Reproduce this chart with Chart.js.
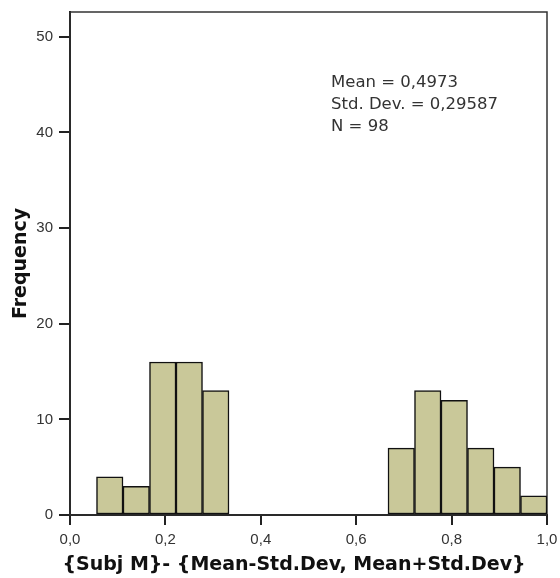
<!DOCTYPE html>
<html>
<head>
<meta charset="utf-8">
<script src="https://cdn.jsdelivr.net/npm/chart.js@4"></script>
<style>
    body { margin: 0; background: #fff; }
    #wrap { width: 560px; height: 578px; }
</style>
</head>
<body>
<div id="wrap"><canvas id="histograma" width="560" height="578"></canvas></div>
<script>
// Dados do histograma - bins de largura 1/18 começando em 1/18
const larguraBin = 1 / 18
const binInicio = 1 / 18
const frequencias = [4, 3, 16, 16, 13, null, null, null, null, null, null, 7, 13, 12, 7, 5, 2]
const ticksX = [0, 0.2, 0.4, 0.6, 0.8, 1.0]
const ticksY = [0, 10, 20, 30, 40, 50]
const estatisticas = ["Mean = 0,4973", "Std. Dev. = 0,29587", "N = 98"]
const tituloX = "{Subj M}- {Mean-Std.Dev, Mean+Std.Dev}"

const pontos = frequencias.map((f, i) => ({ x: binInicio + larguraBin * (i + 0.5), y: f }))

const virgula = v => Number(v).toFixed(1).replace('.', ',')

// Moldura, texto das estatísticas e título do eixo X
const pluginMoldura = {
    id: 'moldura',
    beforeDatasetsDraw(chart) {
        const { ctx, chartArea } = chart
        ctx.save()
        ctx.strokeStyle = '#333'
        ctx.lineWidth = 1.5
        ctx.strokeRect(chartArea.left, chartArea.top, chartArea.right - chartArea.left, chartArea.bottom - chartArea.top)
        ctx.restore()
    },
    afterDraw(chart) {
        const { ctx } = chart
        ctx.save()
        ctx.fillStyle = '#333'
        ctx.font = '16.5px "DejaVu Sans", Verdana, sans-serif'
        ctx.textBaseline = 'middle'
        estatisticas.forEach((linha, i) => {
            ctx.fillText(linha, 331, 83 + i * 22)
        })

        ctx.fillStyle = '#111'
        ctx.font = 'bold 19px "DejaVu Sans", Verdana, sans-serif'
        ctx.textAlign = 'center'
        ctx.fillText(tituloX, 294, 565)
        ctx.restore()
    }
}

let myChartHistograma = new Chart(
    document.getElementById("histograma"),
    {
        type: "bar",
        data: {
            datasets: [{
                label: "Frequency",
                data: pontos,
                backgroundColor: "rgb(201,200,153)",
                borderColor: "#111",
                borderWidth: 1.5,
                borderSkipped: false,
                barPercentage: 1,
                categoryPercentage: 1
            }]
        },
        options: {
            responsive: false,
            animation: false,
            layout: { padding: { top: 12, right: 13, left: 0, bottom: 0 } },
            plugins: {
                legend: { display: false },
                tooltip: { enabled: false }
            },
            scales: {
                x: {
                    type: "linear",
                    min: 0,
                    max: 1,
                    offset: false,
                    afterBuildTicks: scale => { scale.ticks = ticksX.map(v => ({ value: v })) },
                    afterFit: scale => {
                        scale.height = 63
                        scale.paddingLeft = 0
                        scale.paddingRight = 0
                    },
                    ticks: {
                        callback: v => virgula(v),
                        color: "#333",
                        font: { family: "'Liberation Sans', Arial, sans-serif", size: 15 },
                        padding: 6,
                        maxRotation: 0
                    },
                    grid: { offset: false, drawOnChartArea: false, drawTicks: true, tickLength: 10, color: "#222", lineWidth: 2 },
                    border: { color: "#111", width: 2 }
                },
                y: {
                    min: 0,
                    max: 52.6,
                    afterBuildTicks: scale => { scale.ticks = ticksY.map(v => ({ value: v })) },
                    afterFit: scale => {
                        scale.width = 70
                        scale.paddingTop = 0
                        scale.paddingBottom = 0
                    },
                    ticks: {
                        color: "#333",
                        font: { family: "'Liberation Sans', Arial, sans-serif", size: 15 },
                        padding: 6
                    },
                    grid: { offset: false, drawOnChartArea: false, drawTicks: true, tickLength: 11, color: "#222", lineWidth: 2 },
                    border: { color: "#111", width: 2 },
                    title: {
                        display: true,
                        text: "Frequency",
                        color: "#111",
                        font: { family: "'DejaVu Sans', Verdana, sans-serif", size: 19, weight: "bold" },
                        padding: { top: 10, bottom: 0 }
                    }
                }
            }
        },
        plugins: [pluginMoldura]
    }
);
</script>
</body>
</html>
